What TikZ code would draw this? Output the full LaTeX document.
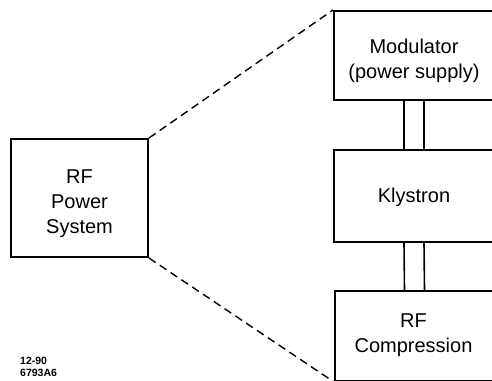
\documentclass[tikz,border=0pt]{standalone}
\usepackage{fontspec}
\setmainfont{Liberation Sans}
\begin{document}
\begin{tikzpicture}[x=1pt,y=-1pt,
  box/.style={draw, line width=2pt, rectangle, inner sep=0pt},
  txt/.style={align=center, inner sep=0pt, font=\fontsize{20}{25}\selectfont},
  link/.style={line width=1.6pt},
  zoomline/.style={line width=1.4pt, dash pattern=on 8pt off 5pt}]
\useasboundingbox (0,0) rectangle (492,380);
\node[box, minimum width=137pt, minimum height=118pt] (rf) at (79.5,198) {};
\node[txt] (rft) at ([yshift=-6pt]rf.center) {RF\\Power\\System};
\node[box, minimum width=160pt, minimum height=89pt] (mod) at (414,55.5) {};
\node[txt] (modt) at ([yshift=-5pt]mod.center) {Modulator\\(power supply)};
\node[box, minimum width=160pt, minimum height=92pt] (kly) at (414,196) {};
\node[txt] (klyt) at ([yshift=-1pt]kly.center) {Klystron};
\node[box, minimum width=159pt, minimum height=90pt] (comp) at (414.5,336) {};
\node[txt] (compt) at ([xshift=-1pt,yshift=1pt]comp.center) {RF\\Compression};
\draw[link] ([xshift=-10pt]mod.south) -- ([xshift=-10pt]kly.north);
\draw[link] ([xshift=10pt]mod.south) -- ([xshift=10pt]kly.north);
\draw[link] ([xshift=-10pt]kly.south) -- ([xshift=-10pt]comp.north);
\draw[link] ([xshift=10pt]kly.south) -- ([xshift=10pt]comp.north);
\draw[zoomline] (rf.north east) -- (mod.north west);
\draw[zoomline] (rf.south east) -- (comp.south west);
\node[anchor=north west, align=left, inner sep=0pt, font=\bfseries\fontsize{10.5}{12}\selectfont] (tag) at (20,357) {12-90\\6793A6};
\end{tikzpicture}
\end{document}
